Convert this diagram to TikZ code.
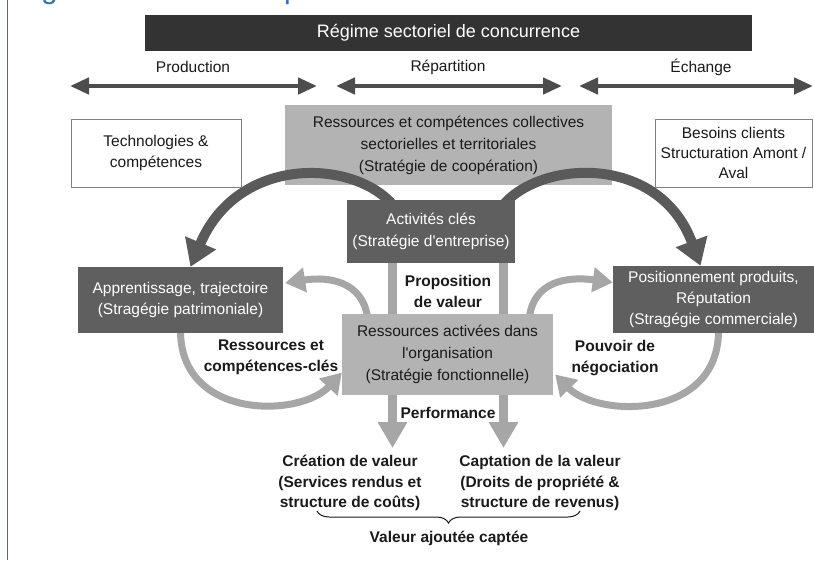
\documentclass[tikz,border=0pt]{standalone}
\usepackage{fontspec}
\setmainfont{Liberation Sans}
\usetikzlibrary{arrows.meta,calc,decorations.pathreplacing}
\pgfdeclarelayer{back}
\pgfsetlayers{back,main}
\definecolor{titlebar}{HTML}{333333}
\definecolor{darkbox}{HTML}{5F5F5F}
\definecolor{lightbox}{HTML}{B3B3B3}
\definecolor{lightarr}{HTML}{A6A6A6}
\definecolor{darkarr}{HTML}{5A5A5A}
\definecolor{toparr}{HTML}{4D4D4D}
\definecolor{txt}{HTML}{1A1A1A}
\definecolor{boxline}{HTML}{808080}
\definecolor{slideblue}{HTML}{2E75B6}
\newcommand\fsz[1]{\fontsize{15.5pt}{#1}\selectfont}
\begin{document}
\begin{tikzpicture}[x=1pt,y=-1pt,
  txtbase/.style={inner sep=0pt, align=center, font=\fsz{21.5pt}, text=txt},
  whitebox/.style={txtbase, draw=boxline, line width=1pt, fill=white},
  lightrect/.style={txtbase, fill=lightbox, font=\fsz{22pt}},
  darkrect/.style={txtbase, fill=darkbox, text=white},
  titlerect/.style={txtbase, fill=titlebar, text=white, font=\fontsize{18pt}{21pt}\selectfont},
  lbl/.style={txtbase, font=\fsz{21pt}\bfseries},
  toplbl/.style={txtbase},
  toparrow/.style={draw=toparr, line width=4.5pt, {Triangle[length=19pt,width=16pt]}-{Triangle[length=19pt,width=16pt]}},
  bigarc/.style={draw=darkarr, line width=10pt, -{Triangle[length=26pt,width=32pt]}},
  smallarc/.style={draw=lightarr, line width=7pt, -{Triangle[length=20pt,width=24pt]}},
  barline/.style={draw=lightarr, line width=9pt},
  perfarrow/.style={draw=lightarr, line width=9pt, -{Triangle[length=26pt,width=28pt]}},
  frag/.style={anchor=base west, inner sep=0pt, text=slideblue, font=\fontsize{30pt}{30pt}\selectfont}
]
\useasboundingbox (0,0) rectangle (814,560);
\clip (0,0) rectangle (814,560);

% slide frame and clipped title fragments
\draw[slideblue, line width=1.2pt] (7.6,0) -- (7.6,560);
\node[frag] (fragg) at (41,-2) {g};
\node[frag] (fragp) at (284,-2) {p};

% title bar and top arrows
\node[titlerect, minimum width=607pt, minimum height=36pt] (title) at (448.5,33) {Régime sectoriel de concurrence};
\node[toplbl] (lprod) at (193,67) {Production};
\node[toplbl] (lrep) at (448,67) {Répartition};
\node[toplbl] (lech) at (701,67) {Échange};
\coordinate (p1) at (70,86);  \coordinate (p2) at (317,86);
\coordinate (r1) at (336,86); \coordinate (r2) at (562,86);
\coordinate (e1) at (579,86); \coordinate (e2) at (813,86);
\draw[toparrow] (p1) -- (p2);
\draw[toparrow] (r1) -- (r2);
\draw[toparrow] (e1) -- (e2);

% boxes
\node[whitebox, minimum width=170pt, minimum height=68pt] (techno) at (156,153) {Technologies \&\\compétences};
\node[whitebox, minimum width=157pt, minimum height=68pt, font=\fsz{20pt}] (besoins) at (733.5,153) {Besoins clients\\Structuration Amont /\\Aval};
\node[darkrect, minimum width=168pt, minimum height=63pt] (act) at (431,231.5) {Activités clés\\(Stratégie d\textquotesingle entreprise)};
\node[darkrect, minimum width=205pt, minimum height=66pt] (appr) at (180.5,300) {Apprentissage, trajectoire\\(Stragégie patrimoniale)};
\node[darkrect, minimum width=201pt, minimum height=67pt, font=\fsz{21pt}] (pos) at (713.5,299.5) {Positionnement produits,\\Réputation\\(Stragégie commerciale)};
\node[lightrect, minimum width=211pt, minimum height=81pt] (res) at (447.5,354.5) {Ressources activées dans\\l\textquotesingle organisation\\(Stratégie fonctionnelle)};

% back layer: background, collective box and curved arrows
\begin{pgfonlayer}{back}
\fill[white] (0,0) rectangle (814,560);
\node[lightrect, minimum width=327pt, minimum height=80pt] (coll) at (448.5,145) {Ressources et compétences collectives\\sectorielles et territoriales\\(Stratégie de coopération)};
\coordinate (ls) at ($(act.north)+(-33,12)$);
\coordinate (rs) at ($(act.north)+(67,12)$);
\draw[bigarc] (ls) .. controls (365,160) and (240,150) .. ($(appr.north)+(10,0)$);
\draw[bigarc] (rs) .. controls (531,160) and (658,150) .. ($(pos.north)+(-13,0)$);
\draw[smallarc] ($(res.north)+(-80,3)$) .. controls (362,282) and (330,276) .. ($(appr.east)+(2,-17)$);
\draw[smallarc] ($(appr.south)+(0,-3)$) .. controls (180,420) and (300,418) .. ($(res.west)+(0,18)$);
\draw[smallarc] ($(res.north)+(82,3)$) .. controls (534,282) and (566,276) .. ($(pos.west)+(0,-17)$);
\draw[smallarc] ($(pos.south)+(5,-3)$) .. controls (719,420) and (598,418) .. ($(res.east)+(2,20)$);
\end{pgfonlayer}

% proposition de valeur bars
\coordinate (bl) at (392.5,0);
\coordinate (br) at (503.5,0);
\draw[barline] (bl |- act.south) -- (bl |- res.north);
\draw[barline] (br |- act.south) -- (br |- res.north);
\node[lbl] (prop) at (448,291) {Proposition\\de valeur};

% side labels
\node[lbl] (rck) at (271,357.5) {Ressources et\\compétences-clés};
\node[lbl] (pouv) at (615,358) {Pouvoir de\\négociation};

% performance arrows
\coordinate (tl) at (392.5,448);
\coordinate (tr) at (503.5,448);
\draw[perfarrow] (bl |- res.south) -- (tl);
\draw[perfarrow] (br |- res.south) -- (tr);
\node[lbl] (perf) at (448,413) {Performance};

% bottom texts
\node[lbl, font=\fsz{20.5pt}\bfseries] (cre) at (350,483) {Création de valeur\\(Services rendus et\\structure de coûts)};
\node[lbl, font=\fsz{20.5pt}\bfseries] (cap) at (540,483) {Captation de la valeur\\(Droits de propriété \&\\structure de revenus)};
\coordinate (bra) at (317,511);
\coordinate (brb) at (580,511);
\draw[txt, line width=1pt, decorate, decoration={brace, mirror, amplitude=12pt}] (bra) -- (brb);
\node[lbl] (vac) at (449,538) {Valeur ajoutée captée};
\end{tikzpicture}
\end{document}
